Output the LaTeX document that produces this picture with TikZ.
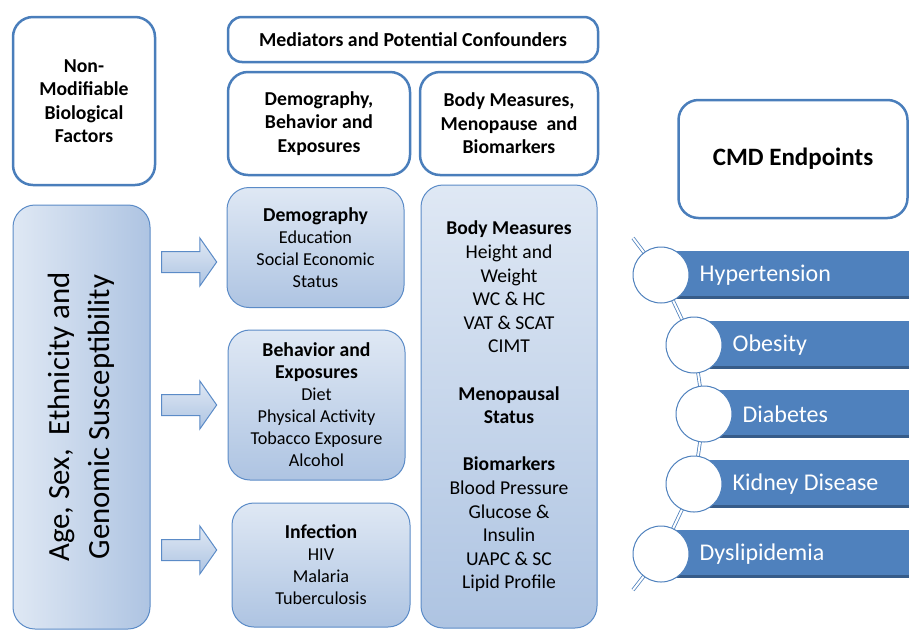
\documentclass[tikz,border=0pt]{standalone}
\usepackage{fontspec}
\setmainfont{Carlito}
\usetikzlibrary{shapes.arrows}
\definecolor{hdblue}{HTML}{4A7EBB}
\definecolor{lineblue}{HTML}{5B8BC7}
\definecolor{paleblue}{HTML}{DFE8F4}
\definecolor{midblue}{HTML}{AEC4E2}
\definecolor{barblue}{HTML}{4F81BD}
\definecolor{bardark}{HTML}{375C89}
\newcommand{\boxhead}[1]{{\bfseries\fontsize{19.7}{22}\selectfont #1}}
\tikzset{
  headbox/.style={draw=hdblue, line width=2.5pt, rounded corners=20pt, fill=white,
    align=center, inner sep=0pt, font=\bfseries\fontsize{19.7}{23.5}\selectfont},
  factorbox/.style={draw=lineblue, line width=1pt, rounded corners=22pt,
    top color=paleblue, bottom color=midblue, align=center, inner sep=0pt,
    font=\fontsize{18.2}{22}\selectfont},
  blockarrow/.style={single arrow, draw=lineblue, line width=1pt,
    top color=paleblue, bottom color=midblue, inner xsep=0pt, inner ysep=10pt,
    minimum height=55pt, minimum width=47pt, single arrow head extend=13.5pt,
    single arrow tip angle=110},
  chain/.style={draw=barblue, line width=0.8pt, double=white, double distance=2pt},
  endbar/.style={fill=barblue, anchor=west, minimum height=48pt, inner sep=0pt,
    path picture={\fill[bardark] (path picture bounding box.south west)
      rectangle ([yshift=3pt]path picture bounding box.south east);}},
  endcircle/.style={circle, draw=barblue, line width=1pt, fill=white, minimum size=56pt, inner sep=0pt},
  endlabel/.style={anchor=west, text=white, inner sep=0pt, font=\fontsize{24}{28}\selectfont}
}

\begin{document}
\begin{tikzpicture}[x=1pt, y=-1pt]
\useasboundingbox (0,0) rectangle (909,630);

\node[headbox, minimum width=142pt, minimum height=168pt] (nonmod) at (84,101)
  {Non-\\Modifiable\\Biological\\Factors};
\node[headbox, rounded corners=14pt, minimum width=370pt, minimum height=45pt,
  font=\bfseries\fontsize{19.8}{23}\selectfont] (mediators) at (413,39.5)
  {Mediators and Potential Confounders};
\node[headbox, minimum width=182pt, minimum height=103pt] (demohead) at (319,123.5)
  {Demography,\\Behavior and\\Exposures};
\node[headbox, minimum width=178pt, minimum height=103pt] (bodyhead) at (509,123.5)
  {Body Measures,\\Menopause\ \ and\\Biomarkers};
\node[headbox, minimum width=229pt, minimum height=118pt,
  font=\bfseries\fontsize{25}{29}\selectfont] (cmd) at (793,159) {CMD Endpoints};

\node[factorbox, rotate=90, minimum width=424pt, minimum height=137pt,
  left color=paleblue, right color=midblue,
  font=\fontsize{30.8}{40}\selectfont] (agebox) at (81.5,417)
  {Age, Sex,\ \ Ethnicity and\\Genomic Susceptibility};

\node[blockarrow] (arr1) at (185.5,262) {};
\node[blockarrow] (arr2) at (185.5,405) {};
\node[blockarrow] (arr3) at (185.5,550) {};

\node[factorbox, minimum width=177pt, minimum height=120pt] (demo) at (315.5,247.5)
  {\boxhead{Demography}\\Education\\Social Economic\\Status};
\node[factorbox, minimum width=177pt, minimum height=150pt] (behav) at (316.5,405)
  {\boxhead{Behavior and}\\\boxhead{Exposures}\\Diet\\Physical Activity\\Tobacco Exposure\\Alcohol};
\node[factorbox, minimum width=178pt, minimum height=124pt] (infect) at (321,565)
  {\boxhead{Infection}\\HIV\\Malaria\\Tuberculosis};
\node[factorbox, minimum width=176pt, minimum height=443pt,
  font=\fontsize{19.6}{23.6}\selectfont] (bodybox) at (509,406.5)
  {\textbf{Body Measures}\\Height and\\Weight\\WC \& HC\\VAT \& SCAT\\CIMT\\[23.6pt]
   \textbf{Menopausal}\\\textbf{Status}\\[23.6pt]
   \textbf{Biomarkers}\\Blood Pressure\\Glucose \&\\Insulin\\UAPC \& SC\\Lipid Profile};

\coordinate (chaintop) at (633,238);
\coordinate (p1) at (661,275);
\coordinate (p2) at (694,345);
\coordinate (p3) at (704,414);
\coordinate (p4) at (694,484);
\coordinate (p5) at (661,554);
\coordinate (chainbot) at (633,590);
\draw[chain] (chaintop) -- (p1) -- (p2) -- (p3) -- (p4) -- (p5) -- (chainbot);

\node[endbar, minimum width=248pt] (bar1) at (p1) {};
\node[endbar, minimum width=215pt] (bar2) at (p2) {};
\node[endbar, minimum width=205pt] (bar3) at (p3) {};
\node[endbar, minimum width=215pt] (bar4) at (p4) {};
\node[endbar, minimum width=248pt] (bar5) at (p5) {};

\node[endcircle] (c1) at (p1) {};
\node[endcircle] (c2) at (p2) {};
\node[endcircle] (c3) at (p3) {};
\node[endcircle] (c4) at (p4) {};
\node[endcircle] (c5) at (p5) {};

\node[endlabel] (hyper) at ([xshift=10pt]c1.east) {Hypertension};
\node[endlabel] (obes) at ([xshift=10pt]c2.east) {Obesity};
\node[endlabel] (diab) at ([xshift=10pt]c3.east) {Diabetes};
\node[endlabel] (kidney) at ([xshift=10pt]c4.east) {Kidney Disease};
\node[endlabel] (dyslip) at ([xshift=10pt]c5.east) {Dyslipidemia};
\end{tikzpicture}
\end{document}
